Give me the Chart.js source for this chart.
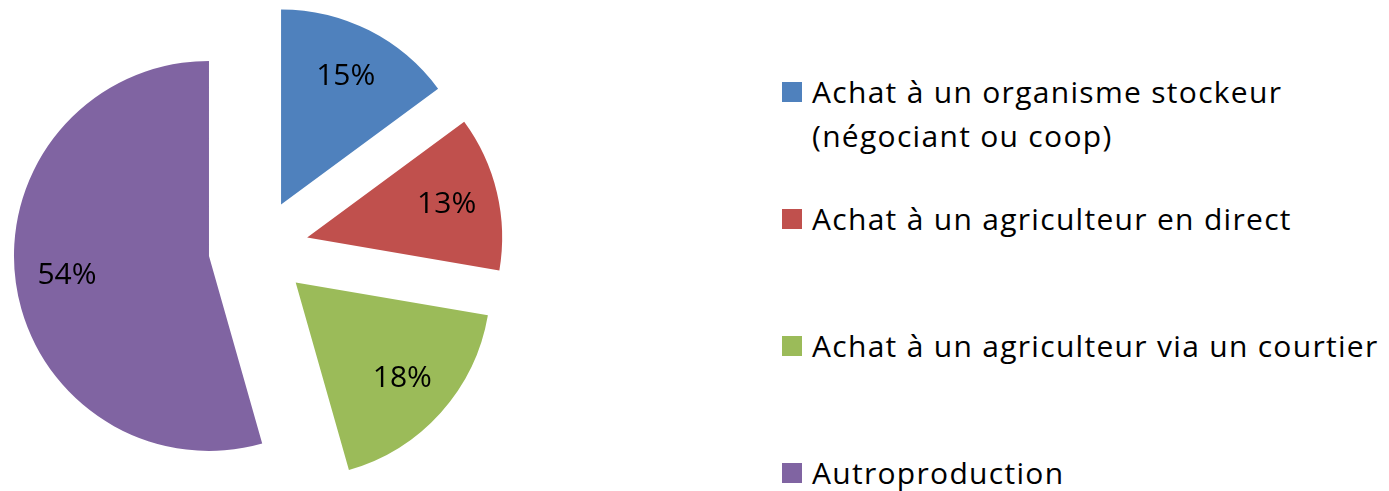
<!DOCTYPE html>
<html>
<head>
<meta charset="utf-8">
<script src="https://cdn.jsdelivr.net/npm/chart.js@4"></script>
<style>
  html, body { margin: 0; padding: 0; background: #fff; }
  #wrap { position: relative; width: 1389px; height: 491px; overflow: hidden; font-family: "Open Sans", sans-serif; }
  #pieBox { position: absolute; left: 0; top: 0; width: 520px; height: 491px; }
  #legend { position: absolute; left: 782px; top: 70px; }
  .item { height: 127px; display: flex; align-items: flex-start; }
  .box { width: 20px; height: 20px; margin-top: 12px; margin-right: 10px; flex: none; }
  .txt { font-size: 30px; line-height: 44px; letter-spacing: 1.3px; color: #000; max-width: 590px; }
</style>
</head>
<body>
<div id="wrap">
  <div id="pieBox"><canvas id="chartPie"></canvas></div>
  <div id="legend"></div>
</div>
<script>
const categories = [
  "Achat à un organisme stockeur (négociant ou coop)",
  "Achat à un agriculteur en direct",
  "Achat à un agriculteur via un courtier",
  "Autroproduction"
];
const shares = [14.9, 12.8, 17.9, 54.4];
const colors = ["#4F81BD", "#C0504D", "#9BBB59", "#8064A2"];

const OFFSET = 50;      // eclatement des parts
const LABEL_POS = 0.735; // position des % sur le rayon

const total = shares.reduce((a, b) => a + b, 0);
const pctText = shares.map(v => Math.round(v / total * 100) + "%");

// decale chaque part le long de sa bissectrice
const explode = {
  id: "explode",
  afterDatasetUpdate(chart, args) {
    const meta = chart.getDatasetMeta(args.index);
    meta.data.forEach(arc => {
      const mid = (arc.startAngle + arc.endAngle) / 2;
      arc.x += Math.cos(mid) * OFFSET;
      arc.y += Math.sin(mid) * OFFSET;
    });
  }
};

const pctLabels = {
  id: "pctLabels",
  afterDatasetsDraw(chart) {
    const ctx = chart.ctx;
    const meta = chart.getDatasetMeta(0);
    ctx.save();
    ctx.font = "30px 'Open Sans'";
    ctx.fillStyle = "#000";
    ctx.textAlign = "center";
    ctx.textBaseline = "middle";
    meta.data.forEach((arc, i) => {
      const mid = (arc.startAngle + arc.endAngle) / 2;
      const r = arc.outerRadius * LABEL_POS;
      ctx.fillText(pctText[i], arc.x + Math.cos(mid) * r, arc.y + Math.sin(mid) * r);
    });
    ctx.restore();
  }
};

new Chart(document.getElementById("chartPie"), {
  type: "pie",
  data: {
    labels: categories,
    datasets: [{
      data: shares,
      backgroundColor: colors,
      borderWidth: 0
    }]
  },
  options: {
    responsive: true,
    maintainAspectRatio: false,
    animation: false,
    events: [],
    radius: 195,
    layout: { padding: { top: 7, right: 3, left: 0, bottom: 0 } },
    plugins: {
      legend: { display: false },
      tooltip: { enabled: false }
    }
  },
  plugins: [explode, pctLabels]
});

// legende a droite
const legend = document.getElementById("legend");
categories.forEach((name, i) => {
  const item = document.createElement("div");
  item.className = "item";
  const box = document.createElement("div");
  box.className = "box";
  box.style.background = colors[i];
  const txt = document.createElement("div");
  txt.className = "txt";
  txt.textContent = name;
  item.appendChild(box);
  item.appendChild(txt);
  legend.appendChild(item);
});
</script>
</body>
</html>
